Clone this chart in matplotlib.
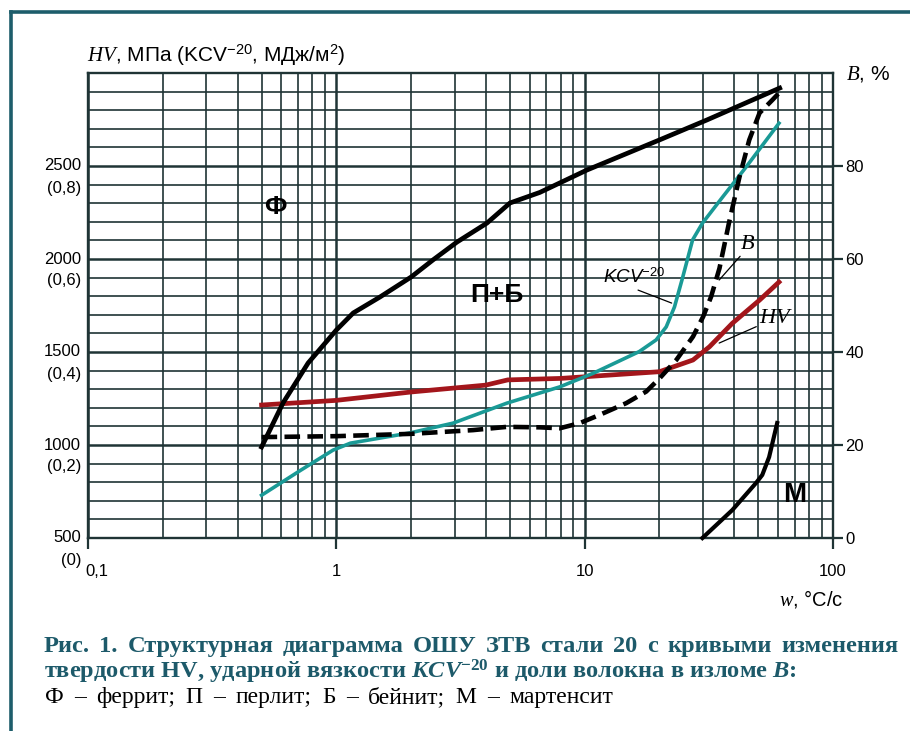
import matplotlib
matplotlib.use("Agg")
import matplotlib.pyplot as plt
import numpy as np
from matplotlib import transforms
from matplotlib.lines import Line2D
from matplotlib.ticker import LogLocator, NullFormatter

plt.rcParams['font.family'] = ['Liberation Sans', 'DejaVu Sans']
plt.rcParams['mathtext.fontset'] = 'custom'
plt.rcParams['mathtext.rm'] = 'Liberation Sans'
plt.rcParams['mathtext.it'] = 'Liberation Serif:italic'
plt.rcParams['mathtext.bf'] = 'Liberation Serif:bold'
plt.rcParams['mathtext.bfit'] = 'Liberation Serif:bold:italic'

# cooling rate w, °C/s  (x axis, log scale)
# phase boundary Ф / П+Б (drawn in left-axis units)
bound_rate = [0.5, 0.61, 0.77, 1.0, 1.17, 1.5, 2.0, 2.45, 3.06, 4.04, 5.0, 6.6, 10.2, 20, 31, 61]
bound_val = [989, 1226, 1441, 1618, 1710, 1796, 1903, 1995, 2091, 2193, 2301, 2358, 2478, 2640, 2747, 2919]

# hardness HV, MPa
hv_rate = [0.5, 1.0, 2.0, 4.0, 4.9, 8.0, 12.6, 20, 27.3, 31.8, 39.3, 50.6, 60.6]
hv = [1215, 1240, 1285, 1322, 1350, 1358, 1376, 1394, 1457, 1528, 1654, 1779, 1876]

# impact toughness KCV-20, MJ/m2
kcv_rate = [0.5, 0.72, 0.97, 1.14, 1.98, 2.95, 4.86, 7.94, 10.8, 16.6, 19.4, 21.3, 23.0,
            24.8, 27.2, 29.8, 35.9, 44.7, 60.6]
kcv = [0.092, 0.146, 0.189, 0.204, 0.226, 0.247, 0.29, 0.325, 0.354, 0.401, 0.426, 0.454, 0.497,
       0.56, 0.641, 0.677, 0.733, 0.798, 0.892]

# fibre share in fracture B, %
b_rate = [0.5, 1.0, 2.0, 3.55, 4.86, 6.6, 7.94, 9.55, 11.4, 14.7, 17.7, 20, 23.4, 27.3,
          30, 32.3, 34.9, 38.2, 42, 46, 50.6, 57, 60.6]
b_val = [21.7, 21.9, 22.4, 23.2, 23.9, 23.8, 23.6, 24.7, 26.4, 29.0, 31.5, 34.3, 38.3, 43.3,
         47.6, 51.9, 58.0, 68.0, 77.6, 85.6, 91.4, 94.2, 95.7]

# martensite boundary (left-axis units)
m_rate = [29.8, 39.3, 49, 51.9, 55.3, 59.6]
m_val = [500, 650, 796, 839, 935, 1118]

left_ticks = [500, 1000, 1500, 2000, 2500]
left_sub = ['(0)', '(0,2)', '(0,4)', '(0,6)', '(0,8)']
right_ticks = [0, 20, 40, 60, 80]
x_ticks = [0.1, 1, 10, 100]
x_labels = ['0,1', '1', '10', '100']

W, H = 910, 731
grid_c = '#1f3435'
teal_frame = '#1d5d6b'

fig = plt.figure(figsize=(W / 100, H / 100), dpi=100)
ax = fig.add_axes([88 / W, 1 - 538 / H, (833 - 88) / W, (538 - 73) / H])
ax.set_xscale('log')
ax.set_xlim(0.1, 100)
ax.set_ylim(500, 3000)
ax.set_xticks(x_ticks)
ax.set_xticklabels(x_labels)
ax.xaxis.set_minor_locator(LogLocator(base=10, subs=np.arange(2, 10)))
ax.xaxis.set_minor_formatter(NullFormatter())
ax.set_yticks(left_ticks)
ax.set_yticks(np.arange(500, 3001, 100), minor=True)
ax.grid(True, which='minor', color=grid_c, lw=1.2)
ax.grid(True, which='major', color=grid_c, lw=1.8)
ax.tick_params(axis='y', which='both', length=0, labelleft=False)
ax.tick_params(axis='x', which='major', length=8, width=1.6, color=grid_c,
               direction='out', pad=11, labelsize=12)
ax.tick_params(axis='x', which='minor', length=0)
for sp in ax.spines.values():
    sp.set_color(grid_c)
    sp.set_linewidth(1.7)
ax.set_axisbelow(True)

lab0 = ax.get_xticklabels()[0]
lab0.set_transform(lab0.get_transform() + transforms.ScaledTranslation(0.09, 0, fig.dpi_scale_trans))

# left labels: value and KCV value in brackets
tr_main = transforms.offset_copy(ax.get_yaxis_transform(), fig=fig, x=-7, y=0, units='dots')
tr_sub = transforms.offset_copy(ax.get_yaxis_transform(), fig=fig, x=-7, y=-22, units='dots')
for v, s in zip(left_ticks, left_sub):
    ax.text(0, v, str(v), transform=tr_main, ha='right', va='center', fontsize=12)
    ax.text(0, v, s, transform=tr_sub, ha='right', va='center', fontsize=12)

# curves
ax.plot(bound_rate, bound_val, color='black', lw=3.4, solid_joinstyle='round', zorder=4)
ax.plot(hv_rate, hv, color='#a3161b', lw=3.4, solid_joinstyle='round', zorder=3)
ax.plot(kcv_rate, 500 + 2500 * np.array(kcv), color='#1a9a96', lw=2.6,
        solid_joinstyle='round', zorder=3)
ax.plot(m_rate, m_val, color='black', lw=3.0, zorder=4, clip_on=False)

ax2 = ax.twinx()
ax2.set_ylim(0, 100)
ax2.set_yticks(right_ticks)
ax2.tick_params(axis='y', length=7, width=1.6, color=grid_c, pad=2, labelsize=12)
for sp in ax2.spines.values():
    sp.set_visible(False)
ax2.plot(b_rate, b_val, color='black', lw=3.3, dashes=(3.4, 1.6), zorder=5)

# phase labels
ax.text(0.57, 2280, 'Ф', fontsize=19, fontweight='bold', ha='center', va='center')
ax.text(4.43, 1806, 'П+Б', fontsize=19, fontweight='bold', ha='center', va='center')
ax.text(70, 731, 'М', fontsize=20, fontweight='bold', ha='center', va='center')

# curve labels with leaders
ax.annotate('KCV$^{-20}$', xy=(22.4, 1763), xytext=(15.8, 1900), fontsize=13.5,
            ha='center', va='center', style='italic',
            arrowprops=dict(arrowstyle='-', lw=0.9, color='black', shrinkA=0, shrinkB=0,
                            relpos=(0.45, 0.0)))
ax.annotate('$B$', xy=(34.8, 1887), xytext=(45.1, 2086), fontsize=16,
            ha='center', va='center',
            arrowprops=dict(arrowstyle='-', lw=0.9, color='black', shrinkA=0, shrinkB=0,
                            relpos=(0.2, 0.0)))
ax.annotate('$HV$', xy=(34.8, 1548), xytext=(59, 1688), fontsize=16,
            ha='center', va='center',
            arrowprops=dict(arrowstyle='-', lw=0.9, color='black', shrinkA=0, shrinkB=0,
                            relpos=(0.0, 0.1)))

# axis titles
fig.text(87 / W, 1 - 62 / H, '$HV$, МПа (KCV$^{-20}$, МДж/м$^{2}$)', fontsize=15,
         ha='left', va='baseline')
fig.text(846 / W, 1 - 79 / H, '$B$, %', fontsize=15, ha='left', va='baseline')
fig.text(843 / W, 1 - 606 / H, '$w$, °C/c', fontsize=14.5, ha='right', va='baseline')

# frame
fig.add_artist(Line2D([11 / W, 11 / W], [0, 1 - 12 / H], color=teal_frame, lw=2.6,
                      transform=fig.transFigure))
fig.add_artist(Line2D([11 / W, 1], [1 - 12 / H, 1 - 12 / H], color=teal_frame, lw=2.6,
                      transform=fig.transFigure))

# caption (justified lines placed word by word)
cap_c = '#1d5a6a'
r = fig.canvas.get_renderer()


def justify(words, x0, x1, base, **kw):
    objs = [fig.text(0, 0, w, ha='left', va='baseline', **kw) for w in words]
    widths = [t.get_window_extent(r).width for t in objs]
    gap = (x1 - x0 - sum(widths)) / (len(objs) - 1)
    cx = x0
    for t, w in zip(objs, widths):
        t.set_position((cx / W, 1 - base / H))
        cx += w + gap


justify('Рис. 1. Структурная диаграмма ОШУ ЗТВ стали 20 с кривыми изменения'.split(),
        44, 898, 652, fontsize=17.6, fontweight='bold', family='Liberation Serif', color=cap_c)
fig.text(44 / W, 1 - 678 / H,
         r'твердости HV, ударной вязкости $\mathbfit{KCV}^{\mathbf{-20}}$ и доли волокна в изломе $\mathbfit{B}$:',
         fontsize=17.6, fontweight='bold', family='Liberation Serif', color=cap_c,
         ha='left', va='baseline')
justify('Ф – феррит; П – перлит; Б – бейнит; М – мартенсит'.split(),
        45, 613, 703, fontsize=17, family='Liberation Serif', color='black')

fig.savefig('out.png', dpi=100)
